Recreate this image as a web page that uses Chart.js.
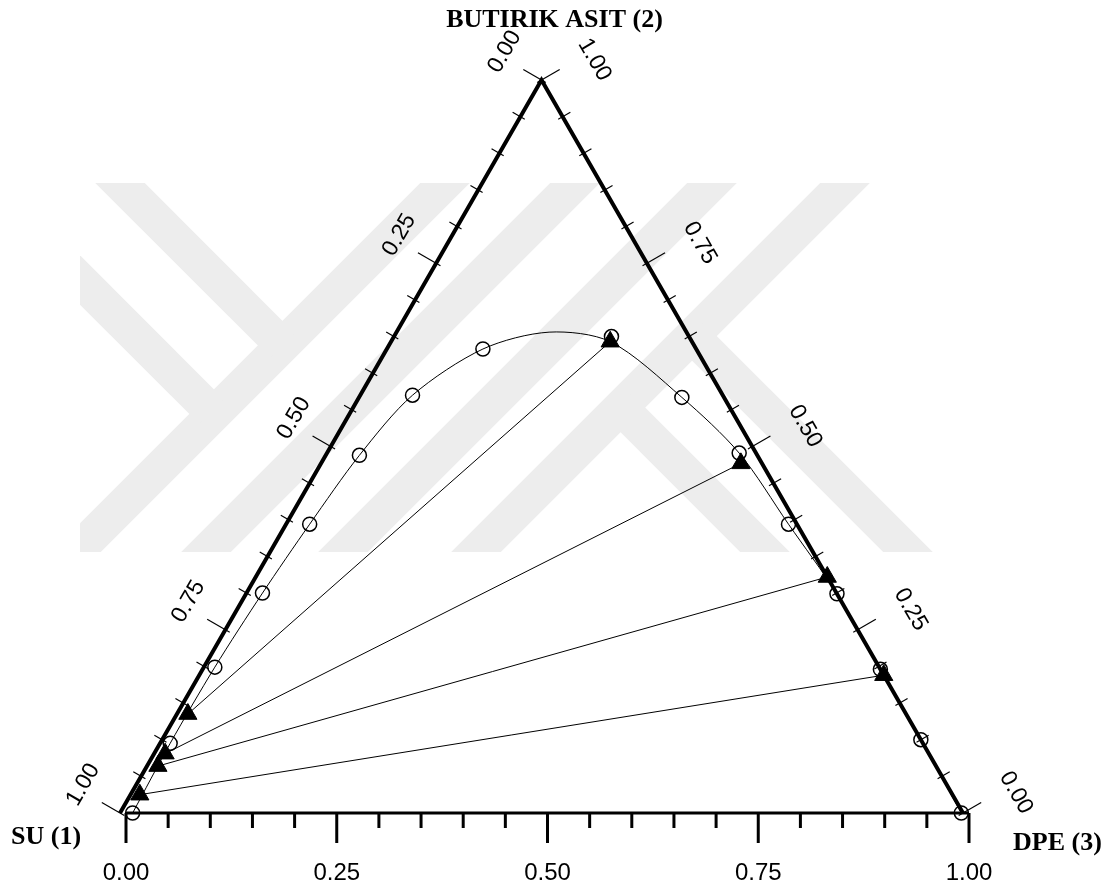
<!DOCTYPE html>
<html>
<head>
<meta charset="utf-8">
<title>Su - Butirik asit - DPE</title>
<script src="https://cdn.jsdelivr.net/npm/chart.js@4.4.1/dist/chart.umd.min.js"></script>
<style>
  html, body { margin: 0; padding: 0; background: #fff; }
  #wrap { width: 1120px; height: 893px; }
</style>
</head>
<body>
<div id="wrap"><canvas id="myChart" width="1120" height="893"></canvas></div>
<script>
// mol fractions: SU (1), BUTIRIK ASIT (2), DPE (3)
// binodal curve points (open circles), from the water corner round to the DPE corner
const binodalSU  = [0.985, 0.893, 0.788, 0.681, 0.578, 0.472, 0.368, 0.253, 0.092, 0.050, 0.020, 0.010, 0.000, 0.000, 0.000, 0.002];
const binodalBA  = [0.000, 0.095, 0.199, 0.300, 0.394, 0.488, 0.570, 0.633, 0.650, 0.567, 0.491, 0.394, 0.299, 0.196, 0.100, 0.000];
const binodalDPE = [0.015, 0.012, 0.013, 0.019, 0.028, 0.040, 0.062, 0.114, 0.258, 0.383, 0.489, 0.596, 0.701, 0.804, 0.900, 0.998];
// top of the drawn binodal curve (between 8th and 9th circle)
const peakBA = 0.656;
const peakDPE = 0.181;

// tie lines (filled triangles): water-rich phase and DPE-rich phase
const rafSU  = [0.852, 0.906, 0.923, 0.964];
const rafBA  = [0.135, 0.081, 0.064, 0.025];
const rafDPE = [0.013, 0.013, 0.013, 0.011];
const extSU  = [0.097, 0.025, 0.000, 0.000];
const extBA  = [0.643, 0.477, 0.322, 0.188];
const extDPE = [0.260, 0.498, 0.678, 0.812];

// axes
const majorTicks = [0, 0.25, 0.5, 0.75, 1];
const minorTicks = Array.from({ length: 21 }, (_, i) => i / 20);
const tickLabel = v => v.toFixed(2);
const titleTop = 'BUTIRIK ASIT (2)';
const titleLeft = 'SU (1)';
const titleRight = 'DPE (3)';

const SQ = Math.sqrt(3) / 2;
// ternary -> cartesian (SU corner at origin, DPE corner at x = 1)
const toXY = (ba, dpe) => ({ x: dpe + ba / 2, y: ba * SQ });

const circlePts = binodalBA.map((b, i) => toXY(b, binodalDPE[i]));
const rafPts = rafBA.map((b, i) => toXY(b, rafDPE[i]));
const extPts = extBA.map((b, i) => toXY(b, extDPE[i]));
// the drawn curve goes over the top, then through the first extract end instead of the 9th circle
const curvePts = binodalBA.map((b, i) => toXY(b, binodalDPE[i]));
curvePts.splice(8, 1, toXY(peakBA, peakDPE), toXY(extBA[0], extDPE[0]));

const datasets = [
    {   // triangles on top
        label: 'bağlantı uçları',
        data: rafPts.concat(extPts),
        pointStyle: 'triangle',
        pointRadius: 10.5,
        backgroundColor: '#000',
        borderColor: '#000',
        borderWidth: 1,
        showLine: false,
        order: 0
    },
    {
        label: 'çözünürlük',
        data: circlePts,
        pointStyle: 'circle',
        pointRadius: 7,
        backgroundColor: 'rgba(0,0,0,0)',
        borderColor: '#000',
        borderWidth: 1.5,
        showLine: false,
        order: 1
    },
    {
        label: 'eğri',
        data: curvePts,
        showLine: true,
        tension: 0.3,
        borderColor: '#000',
        borderWidth: 1,
        pointRadius: 0,
        order: 3
    }
];
rafPts.forEach((p, i) => {
    datasets.push({
        label: 'bağlantı ' + (i + 1),
        data: [p, extPts[i]],
        showLine: true,
        borderColor: '#000',
        borderWidth: 1,
        pointRadius: 0,
        order: 2
    });
});
datasets.forEach(d => { d.clip = false; });

// faint thesis watermark behind the diagram
const watermark = {
    id: 'watermark',
    beforeDraw(chart) {
        const ctx = chart.ctx;
        ctx.save();
        ctx.fillStyle = '#fff';
        ctx.fillRect(0, 0, chart.width, chart.height);
        ctx.beginPath();
        ctx.rect(80, 183, 930, 369);
        ctx.clip();
        ctx.strokeStyle = '#ededed';
        ctx.lineWidth = 35;
        ctx.lineCap = 'butt';
        [445, 575, 712, 845].forEach(xt => {
            ctx.beginPath();
            ctx.moveTo(xt + 30, 153);
            ctx.lineTo(xt - 399, 582);
            ctx.stroke();
        });
        [[90, 153, 282.5, 345.5], [-47, 153, 211.5, 411.5], [619, 406, 805, 592], [691, 335, 948, 592]].forEach(s => {
            ctx.beginPath();
            ctx.moveTo(s[0], s[1]);
            ctx.lineTo(s[2], s[3]);
            ctx.stroke();
        });
        ctx.restore();
    }
};

// triangle frame, ticks and labels
const frame = {
    id: 'ternaryFrame',
    beforeDatasetsDraw(chart) {
        const { ctx, scales: { x, y } } = chart;
        const pt = (ba, dpe) => {
            const c = toXY(ba, dpe);
            return [x.getPixelForValue(c.x), y.getPixelForValue(c.y)];
        };
        const A = pt(0, 0), B = pt(1, 0), C = pt(0, 1);
        const shift = 6; // bottom axis sits slightly right of the triangle
        const nL = [-SQ, -0.5], nR = [SQ, -0.5];

        ctx.save();
        ctx.strokeStyle = '#000';
        ctx.fillStyle = '#000';

        // side edges
        ctx.lineWidth = 4;
        ctx.lineJoin = 'miter';
        ctx.beginPath();
        ctx.moveTo(A[0], A[1]);
        ctx.lineTo(B[0], B[1]);
        ctx.lineTo(C[0], C[1]);
        ctx.stroke();

        // bottom axis
        ctx.lineWidth = 3;
        ctx.beginPath();
        ctx.moveTo(A[0] + shift, A[1]);
        ctx.lineTo(C[0] + shift, C[1]);
        ctx.stroke();
        minorTicks.forEach(v => {
            const major = majorTicks.some(m => Math.abs(m - v) < 1e-9);
            const xp = x.getPixelForValue(v) + shift;
            ctx.beginPath();
            ctx.moveTo(xp, A[1]);
            ctx.lineTo(xp, A[1] + (major ? 30 : 15));
            ctx.stroke();
        });

        // side ticks
        ctx.lineWidth = 1.2;
        minorTicks.forEach(v => {
            const major = majorTicks.some(m => Math.abs(m - v) < 1e-9);
            const len = major ? 21 : 9;
            const pl = pt(1 - v, 0);
            ctx.beginPath();
            ctx.moveTo(pl[0] - 5 * nL[0], pl[1] - 5 * nL[1]);
            ctx.lineTo(pl[0] + len * nL[0], pl[1] + len * nL[1]);
            ctx.stroke();
            const pr = pt(v, 1 - v);
            ctx.beginPath();
            ctx.moveTo(pr[0] - 5 * nR[0], pr[1] - 5 * nR[1]);
            ctx.lineTo(pr[0] + len * nR[0], pr[1] + len * nR[1]);
            ctx.stroke();
        });

        // tick labels
        ctx.textAlign = 'center';
        ctx.textBaseline = 'alphabetic';
        ctx.font = '24px "Liberation Sans", Arial, sans-serif';
        majorTicks.forEach(v => {
            ctx.fillText(tickLabel(v), x.getPixelForValue(v) + shift, A[1] + 67);
        });
        ctx.font = '23px "Liberation Sans", Arial, sans-serif';
        ctx.textBaseline = 'middle';
        majorTicks.forEach(v => {
            // left side: SU fraction, rotated up along the edge
            const pl = pt(1 - v, 0);
            ctx.save();
            ctx.translate(pl[0] + 46 * nL[0] + 6 * 0.5, pl[1] + 46 * nL[1] - 6 * SQ);
            ctx.rotate(-Math.PI / 3);
            ctx.fillText(tickLabel(v), 0, 0);
            ctx.restore();
            // right side: butirik asit fraction, rotated down along the edge
            const pr = pt(v, 1 - v);
            ctx.save();
            ctx.translate(pr[0] + 56 * nR[0] + 9 * 0.5, pr[1] + 56 * nR[1] + 9 * SQ);
            ctx.rotate(Math.PI / 3);
            ctx.fillText(tickLabel(v), 0, 0);
            ctx.restore();
        });

        // corner titles
        ctx.font = 'bold 26px "Liberation Serif", "Times New Roman", serif';
        ctx.textBaseline = 'alphabetic';
        ctx.textAlign = 'center';
        ctx.fillText(titleTop, B[0] + 13, 27);
        ctx.textAlign = 'left';
        ctx.fillText(titleLeft, 11, A[1] + 31);
        ctx.fillText(titleRight, 1013, C[1] + 37);
        ctx.restore();
    }
};

const ctx = document.getElementById('myChart').getContext('2d');

new Chart(ctx, {
    type: 'scatter',
    data: { datasets },
    options: {
        responsive: false,
        animation: false,
        layout: { padding: { left: 120, right: 157, top: 80, bottom: 80 } },
        plugins: {
            legend: { display: false },
            tooltip: { enabled: false }
        },
        scales: {
            x: { type: 'linear', min: 0, max: 1, display: false },
            y: { type: 'linear', min: 0, max: SQ, display: false }
        }
    },
    plugins: [watermark, frame]
});
</script>
</body>
</html>
